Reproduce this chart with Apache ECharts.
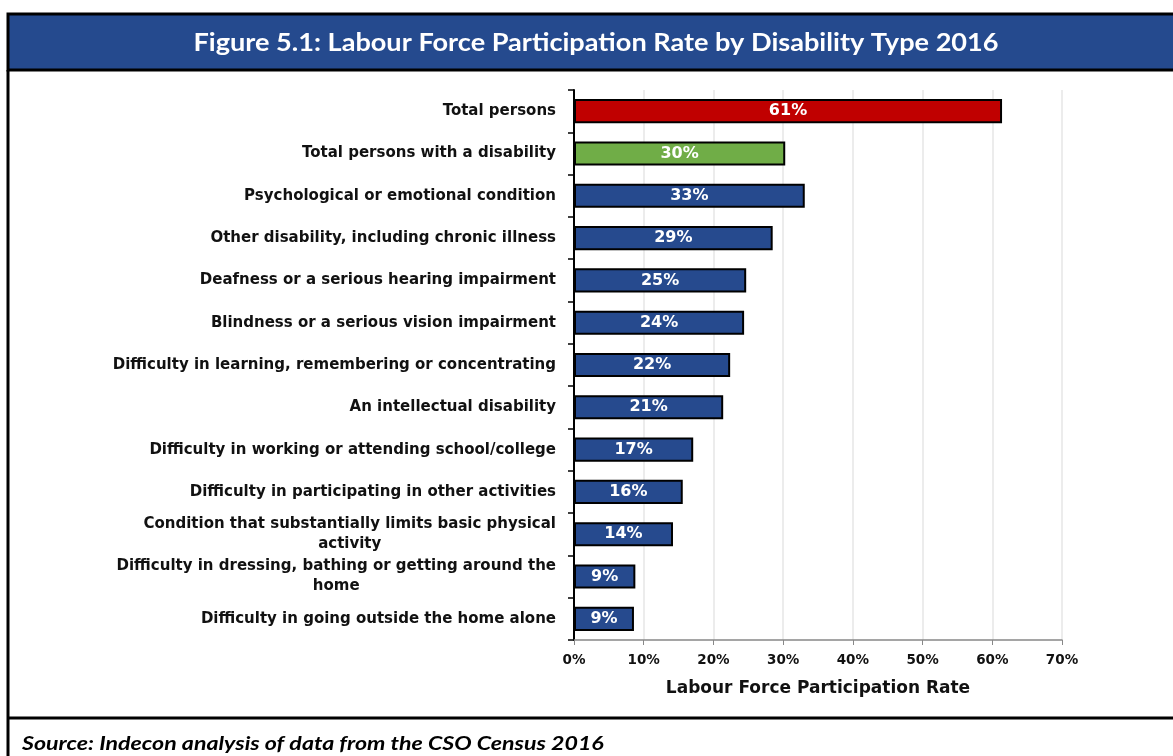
<!DOCTYPE html>
<html>
<head>
<meta charset="utf-8">
<script src="https://cdn.jsdelivr.net/npm/echarts@6/dist/echarts.min.js"></script>
<style>
  html, body { margin: 0; padding: 0; background: #fff; }
  #chart { width: 1173px; height: 756px; }
</style>
</head>
<body>
<div id="chart"></div>
<script>
// Disability types, top to bottom as drawn
const categories = [
  'Total persons',
  'Total persons with a disability',
  'Psychological or emotional condition',
  'Other disability, including chronic illness',
  'Deafness or a serious hearing impairment',
  'Blindness or a serious vision impairment',
  'Difficulty in learning, remembering or concentrating',
  'An intellectual disability',
  'Difficulty in working or attending school/college',
  'Difficulty in participating in other activities',
  'Condition that substantially limits basic physical\nactivity',
  'Difficulty in dressing, bathing or getting around the\nhome',
  'Difficulty in going outside the home alone'
];
// Labour force participation rate (%)
const rates = [61.4, 30.3, 33.1, 28.5, 24.7, 24.4, 22.4, 21.4, 17.1, 15.6, 14.2, 8.8, 8.6];
// Bar fill per category group
const groupColors = ['#C00000', '#70AD47', '#264A8E', '#264A8E', '#264A8E', '#264A8E', '#264A8E',
                     '#264A8E', '#264A8E', '#264A8E', '#264A8E', '#264A8E', '#264A8E'];
const xTicks = [0, 10, 20, 30, 40, 50, 60, 70];

const titleText = 'Figure 5.1: Labour Force Participation Rate by Disability Type 2016';
const sourceText = 'Source: Indecon analysis of data from the CSO Census 2016';

const chart = echarts.init(document.getElementById('chart'), null, { renderer: 'canvas' });

const labelFont = '"DejaVu Sans", Verdana, sans-serif';

chart.setOption({
  animation: false,
  graphic: [
    // title band
    { type: 'rect', shape: { x: 8, y: 14, width: 1175, height: 56 },
      style: { fill: '#254A8E', stroke: '#000', lineWidth: 3 }, z: 1 },
    { type: 'text', x: 596, y: 43, scaleX: 1.13, z: 2,
      style: { text: titleText, fill: '#fff', font: 'bold 24px Lato, "Open Sans", sans-serif',
               textAlign: 'center', textVerticalAlign: 'middle' } },
    // outer frame left edge and source separator
    { type: 'line', shape: { x1: 8, y1: 70, x2: 8, y2: 760 }, style: { stroke: '#000', lineWidth: 3 }, z: 1 },
    { type: 'line', shape: { x1: 8, y1: 718, x2: 1180, y2: 718 }, style: { stroke: '#000', lineWidth: 3 }, z: 1 },
    { type: 'text', x: 22, y: 744, scaleX: 1.22, z: 2,
      style: { text: sourceText, fill: '#000', font: 'italic bold 19px Lato, "Open Sans", sans-serif',
               textAlign: 'left', textVerticalAlign: 'middle' } }
  ],
  grid: { left: 574, right: 111, top: 90, bottom: 116, containLabel: false },
  xAxis: {
    type: 'value', min: 0, max: 70, interval: 10,
    name: 'Labour Force Participation Rate', nameLocation: 'middle', nameGap: 40,
    nameTextStyle: { fontFamily: labelFont, fontWeight: 'bold', fontSize: 17, color: '#111' },
    axisLine: { show: true, lineStyle: { color: '#888', width: 1.5 } },
    axisTick: { show: true, length: 5, lineStyle: { color: '#888' } },
    axisLabel: { formatter: v => v + '%', margin: 13, fontFamily: labelFont, fontWeight: 'bold',
                 fontSize: 13.5, color: '#111' },
    splitLine: { show: true, lineStyle: { color: '#e6e6e6', width: 1.5 } }
  },
  yAxis: {
    type: 'category', data: categories, inverse: true,
    axisLine: { show: true, lineStyle: { color: '#000', width: 2 } },
    axisTick: { show: true, length: 6, lineStyle: { color: '#000', width: 1.5 } },
    axisLabel: {
      margin: 18, fontFamily: labelFont, fontWeight: 'bold', fontSize: 15, color: '#111',
      lineHeight: 20,
      formatter: v => v.split('\n').map(s => '{c|' + s + '}').join('\n'),
      rich: { c: { align: 'center', fontFamily: labelFont, fontWeight: 'bold', fontSize: 15, color: '#111', lineHeight: 20 } }
    }
  },
  series: [{
    type: 'bar',
    data: rates.map((v, i) => ({ value: v, itemStyle: { color: groupColors[i] } })),
    barCategoryGap: '43%',
    itemStyle: { borderColor: '#000', borderWidth: 2 },
    label: {
      show: true, position: 'inside', formatter: p => Math.round(p.value) + '%',
      color: '#fff', fontFamily: labelFont, fontWeight: 'bold', fontSize: 16
    }
  }]
});
</script>
</body>
</html>
